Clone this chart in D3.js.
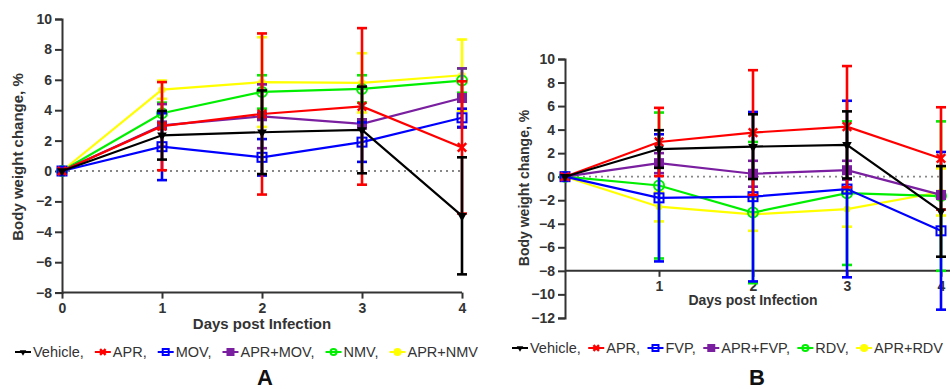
<!DOCTYPE html>
<html>
<head>
<meta charset="utf-8">
<script src="https://cdn.jsdelivr.net/npm/d3@7"></script>
<style>
  body { margin: 0; background: #fff; }
  svg { display: block; font-family: "Liberation Sans", Arial, sans-serif; }
  .tick text { font-weight: bold; font-size: 14px; fill: #333; }
</style>
</head>
<body>
<svg id="chart" width="950" height="389"></svg>
<script>
const days = [0, 1, 2, 3, 4];

// panel A
const seriesA = ['Vehicle', 'APR', 'MOV', 'APR+MOV', 'NMV', 'APR+NMV'];
const meanA = {
  'Vehicle': [0, 2.35, 2.55, 2.7, -2.95],
  'APR': [0, 2.95, 3.75, 4.25, 1.55],
  'MOV': [0, 1.6, 0.9, 1.9, 3.5],
  'APR+MOV': [0, 3.0, 3.6, 3.1, 4.8],
  'NMV': [0, 3.8, 5.2, 5.4, 5.95],
  'APR+NMV': [0, 5.35, 5.85, 5.8, 6.3]
};
const sdA = {
  'Vehicle': [0, 1.6, 2.75, 2.85, 3.85],
  'APR': [0, 2.9, 5.3, 5.15, 4.35],
  'MOV': [0, 2.2, 1.2, 1.3, 0.6],
  'APR+MOV': [0, 1.4, 2.1, 0.3, 1.95],
  'NMV': [0, 0.7, 1.1, 0.9, 0.8],
  'APR+NMV': [0, 0.6, 2.95, 1.95, 2.35]
};

// panel B
const seriesB = ['Vehicle', 'APR', 'FVP', 'APR+FVP', 'RDV', 'APR+RDV'];
const meanB = {
  'Vehicle': [0, 2.35, 2.55, 2.7, -2.95],
  'APR': [0, 2.95, 3.75, 4.25, 1.55],
  'FVP': [0, -1.8, -1.7, -1.05, -4.6],
  'APR+FVP': [0, 1.15, 0.25, 0.55, -1.55],
  'RDV': [0, -0.75, -3.05, -1.4, -1.65],
  'APR+RDV': [0, -2.55, -3.2, -2.75, -1.3]
};
const sdB = {
  'Vehicle': [0, 1.6, 2.75, 2.85, 3.85],
  'APR': [0, 2.9, 5.3, 5.15, 4.35],
  'FVP': [0, 5.4, 7.2, 7.5, 6.7],
  'APR+FVP': [0, 0.85, 1.1, 0.8, 0.3],
  'RDV': [0, 6.2, 6.0, 6.1, 6.35],
  'APR+RDV': [0, 1.25, 1.4, 1.5, 2.0]
};

const yTicksA = d3.range(-8, 11, 2);
const yTicksB = d3.range(-12, 11, 2);

// style per position in the legend
const styles = [
  { color: '#000000', marker: 'tri', size: 9 },
  { color: '#ff0000', marker: 'cross', size: 9 },
  { color: '#0000ff', marker: 'square', size: 9 },
  { color: '#7a1fa0', marker: 'fsquare', size: 8 },
  { color: '#00ee00', marker: 'circle', size: 10 },
  { color: '#ffff00', marker: 'fcircle', size: 5 }
];

const svg = d3.select('#chart');

function drawMarker(g, type, color, x, y, s) {
  if (type === 'tri') {
    g.append('path').attr('d', d3.symbol(d3.symbolTriangle, s * s * 0.5)())
      .attr('transform', 'translate(' + x + ',' + y + ') rotate(180)')
      .attr('fill', color);
  } else if (type === 'cross') {
    g.append('path').attr('d', d3.symbol(d3.symbolX, s * s * 0.6)())
      .attr('transform', 'translate(' + x + ',' + y + ')')
      .attr('stroke', color).attr('stroke-width', 2.5).attr('fill', 'none');
  } else if (type === 'square' || type === 'fsquare') {
    const h = s / 2;
    g.append('rect').attr('x', x - h).attr('y', y - h).attr('width', s).attr('height', s)
      .attr('fill', type === 'square' ? 'none' : color)
      .attr('stroke', color).attr('stroke-width', 2);
  } else {
    g.append('circle').attr('cx', x).attr('cy', y).attr('r', s / 2)
      .attr('fill', type === 'circle' ? 'none' : color)
      .attr('stroke', color).attr('stroke-width', 2);
  }
}

function drawPanel(opt) {
  const g = svg.append('g');
  const x = d3.scaleLinear().domain([0, 4]).range(opt.xRange);
  const y = d3.scaleLinear().domain(opt.yDomain).range(opt.yRange);

  // zero reference line
  g.append('line')
    .attr('x1', x(0)).attr('x2', opt.zeroEnd)
    .attr('y1', y(0)).attr('y2', y(0))
    .attr('stroke', '#888').attr('stroke-width', 1.8)
    .attr('stroke-dasharray', '2,4');

  // y axis
  const yAxis = g.append('g')
    .attr('transform', 'translate(' + x(0) + ',0)')
    .call(d3.axisLeft(y).tickValues(opt.yTicks).tickSize(7).tickPadding(3));
  yAxis.select('.domain').attr('stroke', '#333').attr('stroke-width', 2);
  yAxis.selectAll('.tick line').attr('stroke', '#333').attr('stroke-width', 2);

  // x axis
  const xAxis = g.append('g')
    .attr('transform', 'translate(0,' + y(opt.xAxisAt) + ')')
    .call(d3.axisBottom(x).tickValues(opt.xTicks).tickFormat(d3.format('d')).tickSize(6).tickPadding(4));
  xAxis.select('.domain').remove();
  xAxis.append('line')
    .attr('x1', x(0)).attr('x2', opt.xAxisEnd)
    .attr('stroke', '#333').attr('stroke-width', 2);
  xAxis.selectAll('.tick line').attr('stroke', '#333').attr('stroke-width', 2);

  // axis titles
  g.append('text')
    .attr('x', opt.xTitle[0]).attr('y', opt.xTitle[1])
    .attr('text-anchor', 'middle')
    .style('font-weight', 'bold').style('font-size', opt.titleSize + 'px').attr('fill', '#333')
    .text('Days post Infection');
  g.append('text')
    .attr('transform', 'translate(' + opt.yTitle[0] + ',' + opt.yTitle[1] + ') rotate(-90)')
    .attr('text-anchor', 'middle')
    .style('font-weight', 'bold').style('font-size', opt.titleSize + 'px').attr('fill', '#333')
    .text('Body weight change, %');

  // series, Vehicle ends up on top
  const line = d3.line().x((d, i) => x(days[i])).y(d => y(d));
  d3.range(opt.names.length).reverse().forEach(k => {
    const name = opt.names[k];
    const st = styles[k];
    const m = opt.mean[name];
    const sd = opt.sd[name];
    const sg = g.append('g');
    sg.append('path').datum(m)
      .attr('d', line).attr('fill', 'none')
      .attr('stroke', st.color).attr('stroke-width', 2.2);
    days.forEach((dd, i) => {
      if (sd[i] <= 0) return;
      const cx = x(dd);
      sg.append('line').attr('x1', cx).attr('x2', cx)
        .attr('y1', y(m[i] - sd[i])).attr('y2', y(m[i] + sd[i]))
        .attr('stroke', st.color).attr('stroke-width', 2.6);
      [m[i] - sd[i], m[i] + sd[i]].forEach(v => {
        sg.append('line').attr('x1', cx - 5).attr('x2', cx + 5)
          .attr('y1', y(v)).attr('y2', y(v))
          .attr('stroke', st.color).attr('stroke-width', 2.6);
      });
    });
    m.forEach((v, i) => drawMarker(sg, st.marker, st.color, x(days[i]), y(v), st.size));
  });

  // legend, spread between its two ends
  const lg = g.append('g').attr('transform', 'translate(' + opt.legend[0] + ',' + opt.legend[1] + ')');
  const items = opt.names.map((name, k) => {
    const it = lg.append('g');
    const st = styles[k];
    it.append('line').attr('x1', 0).attr('x2', 16)
      .attr('y1', -5).attr('y2', -5)
      .attr('stroke', st.color).attr('stroke-width', 2);
    drawMarker(it, st.marker, st.color, 8, -5, 6);
    const t = it.append('text').attr('x', 18).attr('y', 0)
      .style('font-size', '14.5px').attr('fill', '#333')
      .text(name + (k < opt.names.length - 1 ? ',' : ''));
    return { g: it, w: 18 + t.node().getComputedTextLength() };
  });
  const total = d3.sum(items, d => d.w);
  const gap = (opt.legend[2] - opt.legend[0] - total) / (items.length - 1);
  let cur = 0;
  items.forEach(d => {
    d.g.attr('transform', 'translate(' + cur + ',0)');
    cur += d.w + gap;
  });

  // panel letter
  g.append('text')
    .attr('x', opt.letter[0]).attr('y', opt.letter[1])
    .attr('text-anchor', 'middle')
    .style('font-weight', 'bold').style('font-size', '22px').attr('fill', '#111')
    .text(opt.label);
}

drawPanel({
  names: seriesA, mean: meanA, sd: sdA,
  xRange: [62, 462], yDomain: [-8, 10], yRange: [292.6, 19],
  yTicks: yTicksA, xTicks: days, xAxisAt: -8, xAxisEnd: 462, zeroEnd: 462,
  xTitle: [262, 329], yTitle: [23, 157], titleSize: 15,
  legend: [15, 357, 478],
  letter: [265, 385], label: 'A'
});

drawPanel({
  names: seriesB, mean: meanB, sd: sdB,
  xRange: [565, 941], yDomain: [-12, 10], yRange: [317.9, 59],
  yTicks: yTicksB, xTicks: [1, 2, 3, 4], xAxisAt: -8, xAxisEnd: 950, zeroEnd: 941,
  xTitle: [753, 305], yTitle: [529, 188], titleSize: 14,
  legend: [512, 353, 943],
  letter: [757, 385], label: 'B'
});
</script>
</body>
</html>
